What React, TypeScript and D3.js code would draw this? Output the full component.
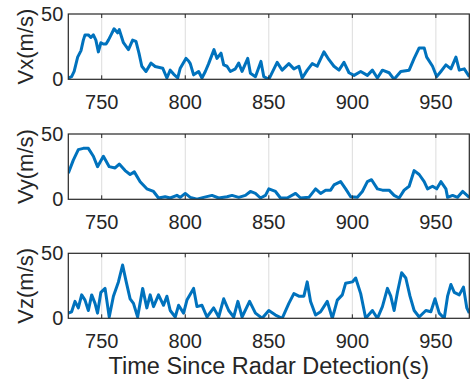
import React from "react";
import * as d3 from "d3";

const xTicks = [750, 800, 850, 900, 950];
const yTicks = [0, 50];
const xDomain = [730, 970];
const yDomain = [0, 50];
const xLabel = "Time Since Radar Detection(s)";
const panelLabels = ["Vx(m/s)", "Vy(m/s)", "Vz(m/s)"];

const vxT = [730,732,733.5,735.6,737.6,739,740,742,743.5,745,746.5,748,749.5,751,752.6,754,755.6,757.4,759.5,760.5,763,766,768.5,770.5,772.3,774,776.5,779.5,782,786.5,789,791,793,795.5,797,800.4,802,803,805,808,810,812,814,817.2,819,821.4,823,825,827,830,832,834,837.4,839,842,845.3,847,850,855,858,862,865,868,870,873,876,879,883,886,889,892,895,898,901,905,909,912,915,918,922,925,929,934,937,940,943,944.5,948,950.5,953,956,959,962,964,967,970];
const vxV = [1,2,6,17,22,30,34,34,32,34,30,21,28,27,27,30,34,38.7,35.6,38,28,22.7,30,29,20,10,6,12.4,9.8,8.5,1,7,4,1,8.5,16,14,12,3.4,6,1,6,12,22.7,16,20,11,10,6,8,12.4,6,16,4.6,2,13.7,2,0,13,7,12,8,10,1,7,12,10,21,15,10,7,13,5,3,6,3,7,1,7,5,0,6,7,16,24,24,17,10,2,6,11,8,17,7,8,2];

const vyT = [730,733,736,739,742,745,747.5,751,754.5,758,760.5,764,767,769.5,773,777,781,784,788,791,795,797,800,803,807,811,816,820,825,828,832,836,839,842,845,848,850,854,857,861,866,869,874,878,881,884,887,889,893,896,899,903,906,909,911.5,915,918,922,925,928,931,934,937,940,943,945,948,950.5,953,956,957,960,963,966,970];
const vyV = [20,30,38,39,39,33,25,33,25,24,27,22,19,21,13.5,8,6,1,2,1,3,1.5,4.5,1.5,0,1.5,3,1,2,3,1.5,3,6,4.5,1,3,8,6,1,1,4.5,1,1.5,8,4.5,7,7,11,13.5,8,2,1.5,6,13.5,15,8,7,7,3,1,7,10,22,19,13.5,8,10,8,13.5,8,1.5,3,1.5,6,1.5];

const vzT = [730,732,734,736,738,740,742,744,746,747.5,749.5,752,754.5,757,760,762.5,764.5,767,769,771.5,774.5,777,779,781,784,787,789,791,794,796,799,801,805,807,810,813,817,820,823,826,829,831.5,834,838.5,842,846,850,854,858,862,865,868,871,873,875,878,881,885,888,891,894,896,900,902,905,908,912,915,918,921,923,925,927,929.5,932,934.5,937,940,944,947,949.5,952,955,957,959,961,964,966.5,968.5,970];
const vzV = [4,5,13,8,18,14,6,18,11.5,4,20,23,1,17,28,41,29,15,11.5,1,23,8,18,9,18,10,17,6,1,10,4,14,23,9,10,1,8,1,15,6,1,13,1,13,4,0,6,2.5,0,11.5,19,17,17,28,13,2.5,5,13,0,14,18,27,28,31,19,0,6,0,9,23,17,6,20,35,31,17,6,1,6,5,15,4,0,17,26,20,18,24,8,4];

const seriesT = [vxT, vyT, vzT];
const seriesV = [vxV, vyV, vzV];

const W = 474;
const H = 381;
const left = 68.3;
const right = 469.3;
const panels = [
  { top: 14, bottom: 79.3 },
  { top: 134, bottom: 199.3 },
  { top: 253.3, bottom: 318.3 },
];
const textColor = "#262626";
const font = "Arial, 'Liberation Sans', Helvetica, sans-serif";

export default function App() {
  const x = d3.scaleLinear().domain(xDomain).range([left, right]);
  return (
    <svg width={W} height={H} style={{ position: "absolute", left: 0, top: 0, background: "#fff" }} fontFamily={font}>
      <rect x={0} y={0} width={W} height={H} fill="#fff" />
      {panels.map((p, i) => {
        const y = d3.scaleLinear().domain(yDomain).range([p.bottom, p.top]);
        const line = d3
          .line<number>()
          .x((_, k) => x(seriesT[i][k]))
          .y((v) => y(v));
        const clipId = `clip${i}`;
        return (
          <g key={i}>
            <defs>
              <clipPath id={clipId}>
                <rect x={left} y={p.top} width={right - left} height={p.bottom - p.top} />
              </clipPath>
            </defs>
            {xTicks.map((t) => (
              <line key={t} x1={x(t)} x2={x(t)} y1={p.top} y2={p.bottom} stroke="#dcdcdc" strokeWidth={1} />
            ))}
            <path
              d={line(seriesV[i]) || ""}
              fill="none"
              stroke="#0072BD"
              strokeWidth={3}
              strokeLinejoin="round"
              clipPath={`url(#${clipId})`}
            />
            {xTicks.map((t) => (
              <g key={"tk" + t}>
                <line x1={x(t)} x2={x(t)} y1={p.bottom} y2={p.bottom - 4} stroke={textColor} strokeWidth={1} />
                <line x1={x(t)} x2={x(t)} y1={p.top} y2={p.top + 4} stroke={textColor} strokeWidth={1} />
              </g>
            ))}
            <rect x={left} y={p.top} width={right - left} height={p.bottom - p.top} fill="none" stroke={textColor} strokeWidth={1.2} />
            {yTicks.map((t) => (
              <text key={"yl" + t} x={left - 5} y={y(t)} dy="0.35em" textAnchor="end" fontSize={20} fill={textColor}>
                {t}
              </text>
            ))}
            {xTicks.map((t) => (
              <text key={"xl" + t} x={x(t)} y={p.bottom + 30} textAnchor="middle" fontSize={20} fill={textColor}>
                {t}
              </text>
            ))}
            <text
              transform={`translate(33,${(p.top + p.bottom) / 2}) rotate(-90)`}
              textAnchor="middle"
              fontSize={22}
              fill={textColor}
            >
              {panelLabels[i]}
            </text>
          </g>
        );
      })}
      <text x={(left + right) / 2} y={374} textAnchor="middle" fontSize={23.5} fill={textColor}>
        {xLabel}
      </text>
    </svg>
  );
}
